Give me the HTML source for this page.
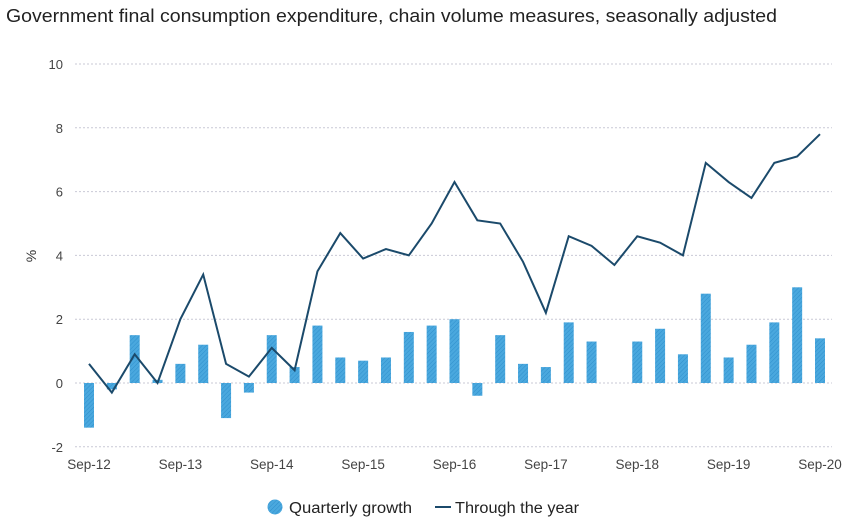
<!DOCTYPE html>
<html><head><meta charset="utf-8"><style>
body{margin:0;background:#fff;font-family:"Liberation Sans",sans-serif;}
svg text{font-family:"Liberation Sans",sans-serif;}
</style></head><body>
<svg width="842" height="525">
<defs><pattern id="hatch" width="3" height="3" patternUnits="userSpaceOnUse" patternTransform="rotate(45)"><rect width="3" height="3" fill="#4aa8de"/><line x1="0" y1="0" x2="0" y2="3" stroke="#2f8fcc" stroke-width="1"/></pattern></defs>
<text x="6" y="22" font-size="18" textLength="771" lengthAdjust="spacingAndGlyphs" fill="#222">Government final consumption expenditure, chain volume measures, seasonally adjusted</text>
<text x="36" y="256" font-size="14" fill="#333" transform="rotate(-90 36 256)" text-anchor="middle">%</text>
<g id="grid"></g><g id="bars"></g><g id="line"></g><g id="xl"></g>
<g>
<circle cx="275" cy="507" r="7.5" fill="url(#hatch)"/>
<text x="289" y="513" font-size="15.5" textLength="123" lengthAdjust="spacingAndGlyphs" fill="#222">Quarterly growth</text>
<line x1="435" y1="507" x2="451" y2="507" stroke="#1b4a6b" stroke-width="2"/>
<text x="455" y="513" font-size="15.5" textLength="124" lengthAdjust="spacingAndGlyphs" fill="#222">Through the year</text>
</g>
</svg>
<script>
const quarterly=[-1.4,-0.2,1.5,0.1,0.6,1.2,-1.1,-0.3,1.5,0.5,1.8,0.8,0.7,0.8,1.6,1.8,2.0,-0.4,1.5,0.6,0.5,1.9,1.3,0,1.3,1.7,0.9,2.8,0.8,1.2,1.9,3.0,1.4];
const throughYear=[0.6,-0.3,0.9,0.0,2.0,3.4,0.6,0.2,1.1,0.4,3.5,4.7,3.9,4.2,4.0,5.0,6.3,5.1,5.0,3.8,2.2,4.6,4.3,3.7,4.6,4.4,4.0,6.9,6.3,5.8,6.9,7.1,7.8];
const yTicks=[-2,0,2,4,6,8,10];
const xLabels=["Sep-12","Sep-13","Sep-14","Sep-15","Sep-16","Sep-17","Sep-18","Sep-19","Sep-20"];
const NS="http://www.w3.org/2000/svg";
const x=i=>89+i*(820-89)/32;
const y=v=>383-v*31.9;
function mk(t,a,p){const e=document.createElementNS(NS,t);for(const k in a)e.setAttribute(k,a[k]);p.appendChild(e);return e;}
const g=document.getElementById('grid');
yTicks.forEach(v=>{
 const l=mk('line',{x1:75,x2:832,y1:y(v),y2:y(v),stroke:'#c9c9d6','stroke-dasharray':'2,2','stroke-width':1},g);
 
 
 const t=mk('text',{x:63,y:y(v)+5,'font-size':13,fill:'#444','text-anchor':'end'},g);t.textContent=v;
 
 
});
const b=document.getElementById('bars');
quarterly.forEach((v,i)=>{
 const r=mk('rect',{x:x(i)-5,width:10,y:Math.min(y(v),y(0)),height:Math.abs(y(v)-y(0)),fill:'url(#hatch)'},b);
 
 
});
const p=mk('polyline',{points:throughYear.map((v,i)=>x(i)+','+y(v)).join(' '),fill:'none',stroke:'#1b4a6b','stroke-width':2,'stroke-linejoin':'miter'},document.getElementById('line'));


const xl=document.getElementById('xl');
xLabels.forEach((s,k)=>{
 const t=mk('text',{x:x(k*4),y:469,'font-size':13.5,fill:'#444','text-anchor':'middle'},xl);t.textContent=s;
 
 
});
</script>
</body></html>
